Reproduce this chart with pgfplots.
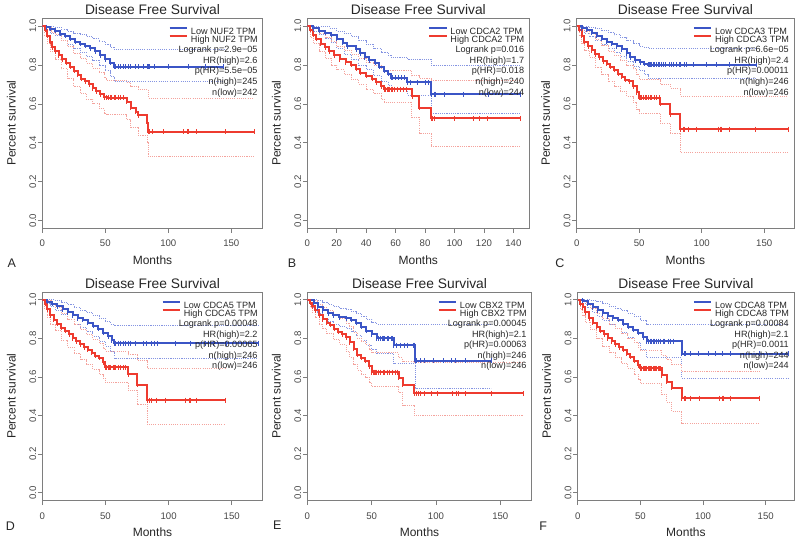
\documentclass[border=0pt]{standalone}
\usepackage{fontspec}
\setmainfont{Liberation Sans}
\usepackage{pgfplots}
\pgfplotsset{compat=1.18}
\definecolor{kmblue}{HTML}{3B55C6}
\definecolor{kmred}{HTML}{EE3B2F}
\definecolor{ciblue}{HTML}{8595E2}
\definecolor{cired}{HTML}{F4A39D}
\definecolor{boxgray}{HTML}{7E7E7E}
\definecolor{txt}{HTML}{262626}

\newcommand{\stats}[5]{Logrank p=#1\\HR(high)=#2\\p(HR)=#3\\n(high)=#4\\n(low)=#5}

\pgfplotsset{
  kmaxis/.style={
    scale only axis, anchor=south west,
    xmin=0, ymin=-0.04, ymax=1.04,
    axis line style={draw=boxgray, line width=0.8pt},
    ytick={0,0.2,0.4,0.6,0.8,1}, yticklabels={0.0,0.2,0.4,0.6,0.8,1.0},
    xtick pos=left, ytick pos=left,
    tick align=outside, major tick length=4.5pt,
    tick style={draw=boxgray, line width=0.6pt},
    ticklabel style={font=\fontsize{9.6}{10}\selectfont, text=txt!85},
    xticklabel style={anchor=north, inner sep=0pt, yshift=-7.3pt},
    yticklabel style={rotate=90, anchor=south, inner xsep=0pt, inner ysep=1.5pt},
    legend style={at={(axis description cs:1,1)}, anchor=north east, xshift=-5pt, yshift=-8.6pt,
      draw=none, fill=none, inner sep=0pt, outer sep=0pt, row sep=0.4pt,
      font=\fontsize{9.1}{9.1}\selectfont, text=txt,
      nodes={inner sep=0pt, text height=6.6pt, text depth=0pt},
      /tikz/every odd column/.append style={column sep=2.7pt}},
    legend cell align=left,
    legend image code/.code={\draw[##1, line width=2pt] (0pt,3.3pt) -- (17.6pt,3.3pt);},
  },
  kmlow/.style={const plot, draw=kmblue, line width=2pt, mark=|, mark phase=2, mark size=2.5pt,
    mark options={draw=kmblue, line width=0.6pt, solid}},
  kmhigh/.style={const plot, draw=kmred, line width=2pt, mark=|, mark phase=2, mark size=2.5pt,
    mark options={draw=kmred, line width=0.6pt, solid}},
  cilow/.style={const plot, draw=ciblue, line width=0.7pt, dash pattern=on 1.1pt off 1.1pt, forget plot},
  cihigh/.style={const plot, draw=cired, line width=0.7pt, dash pattern=on 1.1pt off 1.1pt, forget plot},
  censlow/.style={only marks, mark=|, mark size=2.5pt, mark options={draw=kmblue, line width=0.6pt}, forget plot},
  censhigh/.style={only marks, mark=|, mark size=2.5pt, mark options={draw=kmred, line width=0.6pt}, forget plot},
}
\tikzset{
  statnode/.style={anchor=north east, align=right, inner sep=0pt, font=\fontsize{9.1}{10.6}\selectfont, text=txt},
  ttl/.style={font=\fontsize{13.8}{16}\selectfont, text=txt},
  ylab/.style={rotate=90, font=\fontsize{12}{14}\selectfont, text=txt},
  xlab/.style={font=\fontsize{12}{14}\selectfont, text=txt},
  letter/.style={font=\fontsize{12.5}{14}\selectfont, text=txt},
}

\begin{document}
\begin{tikzpicture}
\useasboundingbox (0pt,0pt) rectangle (800pt,541pt);

% ---------------- A : NUF2
\begin{axis}[kmaxis, name=pA, at={(42.3pt,312.8pt)}, width=220.4pt, height=209.9pt, xmax=174.9,
  xtick={0,50,100,150}, xticklabels={0,50,100,150}]
\addplot[cilow] coordinates {(0,1)(10,0.995)(15,0.985)(20,0.975)(25,0.965)(30,0.955)(35,0.945)(40,0.935)(45,0.92)(50,0.905)(54,0.89)(57,0.88)(144,0.88)};
\addplot[cilow] coordinates {(0,1)(3,0.98)(6,0.965)(10,0.95)(15,0.925)(20,0.905)(25,0.885)(30,0.865)(35,0.845)(40,0.825)(45,0.80)(50,0.77)(54,0.74)(57,0.715)(144,0.715)};
\addplot[cihigh] coordinates {(0,1)(4,0.995)(7,0.97)(10,0.955)(15,0.925)(20,0.895)(25,0.86)(30,0.835)(35,0.81)(40,0.785)(45,0.76)(49,0.735)(51,0.72)(67,0.71)(70,0.69)(76,0.675)(84,0.63)(168,0.63)};
\addplot[cihigh] coordinates {(0,1)(2,0.95)(4,0.91)(6,0.87)(10,0.83)(15,0.78)(20,0.73)(25,0.69)(30,0.655)(35,0.625)(40,0.60)(45,0.575)(49,0.55)(51,0.545)(67,0.52)(70,0.48)(76,0.44)(83,0.40)(84,0.33)(168,0.33)};
\addplot[kmlow] coordinates {(0,1)(3,0.995)(6,0.985)(10,0.975)(14,0.96)(18,0.95)(22,0.935)(26,0.92)(30,0.91)(34,0.90)(38,0.885)(42,0.87)(46,0.85)(50,0.83)(54,0.81)(57,0.79)(144,0.79)};
\addlegendentry{Low NUF2 TPM}
\addplot[kmhigh] coordinates {(0,1)(2,0.98)(4,0.95)(6,0.92)(8,0.89)(10,0.87)(13,0.85)(16,0.83)(19,0.81)(22,0.79)(25,0.77)(28,0.75)(31,0.73)(34,0.715)(37,0.70)(40,0.68)(43,0.665)(46,0.65)(49,0.635)(51,0.63)(67,0.61)(70,0.58)(74,0.56)(76,0.54)(83,0.50)(84,0.455)(168,0.455)};
\addlegendentry{High NUF2 TPM}
\addplot[censlow] coordinates {(58,0.79)(60,0.79)(62,0.79)(64,0.79)(66,0.79)(68,0.79)(70,0.79)(74,0.79)(76,0.79)(80,0.79)(83,0.79)(84,0.79)(85,0.79)(89,0.79)(100,0.79)(116,0.79)(129,0.79)};
\addplot[censhigh] coordinates {(52,0.63)(54,0.63)(55,0.63)(57,0.63)(58,0.63)(60,0.63)(62,0.63)(64,0.63)(85,0.455)(87,0.455)(96,0.455)(112,0.455)(115,0.455)(116,0.455)(122,0.455)(145,0.455)};
\end{axis}
\node[statnode] at ([xshift=-5pt,yshift=-27.7pt]pA.north east) {\stats{2.9e−05}{2.6}{5.5e−05}{245}{242}};
\node[ttl] at ([yshift=8.5pt]pA.north) {Disease Free Survival};
\node[ylab] at ([xshift=-31pt]pA.west) {Percent survival};
\node[xlab] at ([yshift=-32.5pt]pA.south) {Months};
\node[letter] at (11.7pt,278pt) {A};

% ---------------- B : CDCA2
\begin{axis}[kmaxis, name=pB, at={(307.3pt,312.8pt)}, width=222pt, height=209.9pt, xmax=150.8,
  xtick={0,20,40,60,80,100,120,140}, xticklabels={0,20,40,60,80,100,120,140}]
\addplot[cilow] coordinates {(0,1)(10,1.0)(15,0.99)(20,0.975)(25,0.96)(30,0.945)(35,0.925)(40,0.905)(45,0.885)(50,0.865)(55,0.85)(57,0.84)(68,0.83)(84,0.80)(145,0.80)};
\addplot[cilow] coordinates {(0,1)(4,0.975)(8,0.955)(12,0.935)(16,0.915)(20,0.885)(25,0.855)(30,0.83)(35,0.80)(40,0.775)(45,0.745)(50,0.715)(55,0.695)(57,0.675)(68,0.645)(84,0.55)(145,0.55)};
\addplot[cihigh] coordinates {(0,1)(4,0.99)(8,0.965)(12,0.94)(16,0.92)(20,0.895)(25,0.875)(30,0.855)(35,0.835)(40,0.815)(45,0.80)(50,0.78)(52,0.77)(71,0.745)(76,0.73)(84,0.72)(145,0.72)};
\addplot[cihigh] coordinates {(0,1)(2,0.94)(4,0.91)(8,0.87)(12,0.835)(16,0.80)(20,0.775)(25,0.75)(30,0.725)(35,0.70)(40,0.675)(45,0.655)(50,0.625)(52,0.61)(71,0.53)(76,0.45)(84,0.38)(145,0.38)};
\addplot[kmlow] coordinates {(0,1)(4,0.99)(8,0.975)(12,0.965)(16,0.955)(20,0.935)(24,0.915)(27,0.895)(33,0.88)(36,0.86)(39,0.84)(42,0.825)(46,0.81)(49,0.79)(52,0.77)(55,0.755)(57,0.735)(68,0.71)(84,0.65)(145,0.65)};
\addlegendentry{Low CDCA2 TPM}
\addplot[kmhigh] coordinates {(0,1)(2,0.98)(4,0.955)(6,0.935)(9,0.91)(12,0.89)(15,0.87)(18,0.85)(22,0.83)(26,0.815)(30,0.80)(33,0.78)(36,0.76)(40,0.745)(44,0.73)(47,0.71)(50,0.69)(52,0.675)(71,0.64)(76,0.58)(84,0.525)(145,0.525)};
\addlegendentry{High CDCA2 TPM}
\addplot[censlow] coordinates {(58,0.735)(60,0.735)(62,0.735)(64,0.735)(66,0.735)(70,0.71)(75,0.71)(80,0.71)(82,0.71)(86,0.65)(87,0.65)(93,0.65)(106,0.65)(123,0.65)};
\addplot[censhigh] coordinates {(53,0.675)(54,0.675)(55,0.675)(56,0.675)(57,0.675)(58,0.675)(59,0.675)(61,0.675)(63,0.675)(65,0.675)(67,0.675)(85,0.525)(86,0.525)(100,0.525)(113,0.525)(117,0.525)(122,0.525)};
\end{axis}
\node[statnode] at ([xshift=-5pt,yshift=-27.7pt]pB.north east) {\stats{0.016}{1.7}{0.018}{240}{244}};
\node[ttl] at ([yshift=8.5pt]pB.north) {Disease Free Survival};
\node[ylab] at ([xshift=-31pt]pB.west) {Percent survival};
\node[xlab] at ([yshift=-32.5pt]pB.south) {Months};
\node[letter] at (292pt,278pt) {B};

% ---------------- C : CDCA3
\begin{axis}[kmaxis, name=pC, at={(576.7pt,312.8pt)}, width=217.3pt, height=209.9pt, xmax=173.8,
  xtick={0,50,100,150}, xticklabels={0,50,100,150}]
\addplot[cilow] coordinates {(0,1)(10,0.995)(15,0.99)(20,0.98)(25,0.97)(30,0.955)(35,0.94)(40,0.925)(45,0.91)(50,0.895)(54,0.89)(57,0.885)(144,0.885)};
\addplot[cilow] coordinates {(0,1)(3,0.98)(6,0.965)(10,0.945)(15,0.925)(20,0.905)(25,0.885)(30,0.865)(35,0.845)(40,0.82)(45,0.795)(50,0.77)(54,0.75)(57,0.73)(144,0.73)};
\addplot[cihigh] coordinates {(0,1)(4,0.995)(7,0.975)(10,0.96)(15,0.93)(20,0.90)(25,0.87)(30,0.85)(35,0.825)(40,0.80)(45,0.78)(48,0.75)(50,0.725)(67,0.70)(75,0.68)(83,0.64)(169,0.64)};
\addplot[cihigh] coordinates {(0,1)(2,0.95)(4,0.91)(6,0.875)(10,0.84)(15,0.79)(20,0.75)(25,0.715)(30,0.69)(35,0.665)(40,0.64)(45,0.61)(48,0.57)(50,0.55)(67,0.50)(75,0.45)(83,0.35)(169,0.35)};
\addplot[kmlow] coordinates {(0,1)(4,0.99)(8,0.98)(12,0.965)(16,0.95)(20,0.935)(24,0.92)(28,0.91)(32,0.895)(36,0.88)(40,0.86)(43,0.84)(47,0.825)(51,0.815)(54,0.805)(57,0.80)(144,0.80)};
\addlegendentry{Low CDCA3 TPM}
\addplot[kmhigh] coordinates {(0,1)(2,0.98)(4,0.95)(6,0.92)(9,0.895)(12,0.875)(15,0.855)(18,0.84)(21,0.82)(24,0.805)(27,0.79)(30,0.775)(33,0.755)(36,0.74)(39,0.725)(42,0.715)(45,0.69)(48,0.66)(50,0.63)(67,0.60)(75,0.545)(83,0.47)(169,0.47)};
\addlegendentry{High CDCA3 TPM}
\addplot[censlow] coordinates {(58,0.80)(59,0.80)(60,0.80)(61,0.80)(62,0.80)(64,0.80)(65,0.80)(66,0.80)(68,0.80)(69,0.80)(71,0.80)(74,0.80)(76,0.80)(77,0.80)(80,0.80)(82,0.80)(83,0.80)(86,0.80)(88,0.80)(93,0.80)(104,0.80)(112,0.80)(122,0.80)};
\addplot[censhigh] coordinates {(51,0.63)(52,0.63)(53,0.63)(55,0.63)(56,0.63)(57,0.63)(59,0.63)(60,0.63)(62,0.63)(64,0.63)(66,0.63)(85,0.47)(86,0.47)(89,0.47)(96,0.47)(113,0.47)(115,0.47)(116,0.47)(122,0.47)(143,0.47)};
\end{axis}
\node[statnode] at ([xshift=-5pt,yshift=-27.7pt]pC.north east) {\stats{6.6e−05}{2.4}{0.00011}{246}{246}};
\node[ttl] at ([yshift=8.5pt]pC.north) {Disease Free Survival};
\node[ylab] at ([xshift=-31pt]pC.west) {Percent survival};
\node[xlab] at ([yshift=-32.5pt]pC.south) {Months};
\node[letter] at (560pt,278pt) {C};

% ---------------- D : CDCA5
\begin{axis}[kmaxis, name=pD, at={(42.3pt,40.5pt)}, width=220.4pt, height=208.5pt, xmax=174.5,
  xtick={0,50,100,150}, xticklabels={0,50,100,150}]
\addplot[cilow] coordinates {(0,1)(10,0.995)(15,0.985)(20,0.975)(25,0.96)(30,0.945)(35,0.935)(40,0.92)(45,0.905)(50,0.89)(54,0.875)(57,0.865)(171,0.865)};
\addplot[cilow] coordinates {(0,1)(3,0.98)(6,0.965)(10,0.945)(15,0.925)(20,0.9)(25,0.875)(30,0.855)(35,0.835)(40,0.81)(45,0.785)(50,0.76)(54,0.73)(57,0.695)(171,0.695)};
\addplot[cihigh] coordinates {(0,1)(4,0.995)(7,0.975)(10,0.96)(15,0.93)(20,0.90)(25,0.87)(30,0.845)(35,0.82)(40,0.795)(45,0.775)(48,0.75)(50,0.735)(68,0.715)(75,0.685)(83,0.645)(145,0.645)};
\addplot[cihigh] coordinates {(0,1)(2,0.95)(4,0.91)(6,0.87)(10,0.84)(15,0.79)(20,0.755)(25,0.72)(30,0.69)(35,0.665)(40,0.64)(45,0.615)(48,0.595)(50,0.57)(68,0.53)(75,0.46)(83,0.355)(145,0.355)};
\addplot[kmlow] coordinates {(0,1)(4,0.99)(8,0.98)(12,0.965)(16,0.95)(20,0.935)(24,0.92)(28,0.905)(32,0.895)(36,0.88)(40,0.865)(44,0.85)(48,0.83)(52,0.81)(55,0.79)(57,0.775)(171,0.775)};
\addlegendentry{Low CDCA5 TPM}
\addplot[kmhigh] coordinates {(0,1)(2,0.98)(4,0.95)(6,0.92)(9,0.895)(12,0.875)(15,0.855)(18,0.84)(21,0.82)(24,0.80)(27,0.785)(30,0.77)(33,0.755)(36,0.74)(39,0.725)(42,0.71)(45,0.70)(48,0.675)(50,0.65)(68,0.615)(75,0.56)(83,0.48)(145,0.48)};
\addlegendentry{High CDCA5 TPM}
\addplot[censlow] coordinates {(58,0.775)(60,0.775)(62,0.775)(64,0.775)(66,0.775)(68,0.775)(70,0.775)(74,0.775)(80,0.775)(82,0.775)(86,0.775)(89,0.775)(91,0.775)(105,0.775)(117,0.775)(129,0.775)(135,0.775)(146,0.775)};
\addplot[censhigh] coordinates {(51,0.65)(52,0.65)(53,0.65)(54,0.65)(56,0.65)(57,0.65)(58,0.65)(60,0.65)(62,0.65)(64,0.65)(66,0.65)(85,0.48)(86,0.48)(90,0.48)(97,0.48)(113,0.48)(116,0.48)(117,0.48)(122,0.48)};
\end{axis}
\node[statnode] at ([xshift=-5pt,yshift=-27.7pt]pD.north east) {\stats{0.00048}{2.2}{0.00065}{246}{246}};
\node[ttl] at ([yshift=8.5pt]pD.north) {Disease Free Survival};
\node[ylab] at ([xshift=-31pt]pD.west) {Percent survival};
\node[xlab] at ([yshift=-31.5pt]pD.south) {Months};
\node[letter] at (10.5pt,15pt) {D};

% ---------------- E : CBX2
\begin{axis}[kmaxis, name=pE, at={(307.3pt,40.5pt)}, width=224.4pt, height=208.5pt, xmax=174.4,
  xtick={0,50,100,150}, xticklabels={0,50,100,150}]
\addplot[cilow] coordinates {(0,1)(8,0.995)(12,0.985)(16,0.975)(20,0.965)(25,0.955)(30,0.95)(34,0.94)(38,0.93)(42,0.915)(46,0.90)(50,0.885)(54,0.875)(143,0.875)};
\addplot[cilow] coordinates {(0,1)(5,0.96)(8,0.93)(12,0.905)(16,0.89)(20,0.875)(25,0.86)(30,0.85)(34,0.835)(38,0.815)(42,0.79)(46,0.765)(50,0.745)(54,0.72)(67,0.67)(84,0.54)(143,0.54)};
\addplot[cihigh] coordinates {(0,1)(4,0.995)(8,0.975)(12,0.96)(15,0.945)(20,0.925)(25,0.905)(30,0.88)(33,0.86)(36,0.83)(39,0.80)(42,0.785)(45,0.77)(48,0.745)(50,0.725)(71,0.70)(74,0.68)(83,0.675)(168,0.675)};
\addplot[cihigh] coordinates {(0,1)(2,0.96)(4,0.935)(6,0.91)(9,0.875)(12,0.85)(15,0.825)(20,0.795)(25,0.77)(30,0.73)(33,0.70)(36,0.665)(39,0.635)(42,0.615)(45,0.60)(48,0.57)(50,0.55)(71,0.52)(74,0.455)(83,0.40)(168,0.40)};
\addplot[kmlow] coordinates {(0,1)(5,0.985)(8,0.96)(12,0.945)(16,0.93)(20,0.92)(25,0.91)(30,0.905)(34,0.895)(38,0.88)(42,0.86)(46,0.84)(50,0.82)(54,0.80)(67,0.765)(84,0.685)(143,0.685)};
\addlegendentry{Low CBX2 TPM}
\addplot[kmhigh] coordinates {(0,1)(2,0.985)(4,0.965)(6,0.945)(9,0.92)(12,0.90)(15,0.88)(18,0.87)(21,0.85)(24,0.835)(27,0.82)(30,0.805)(33,0.78)(36,0.745)(39,0.715)(42,0.70)(45,0.685)(48,0.655)(50,0.625)(71,0.595)(74,0.56)(83,0.515)(168,0.515)};
\addlegendentry{High CBX2 TPM}
\addplot[censlow] coordinates {(55,0.80)(57,0.80)(58,0.80)(59,0.80)(60,0.80)(62,0.80)(63,0.80)(65,0.80)(66,0.80)(69,0.765)(72,0.765)(75,0.765)(78,0.765)(82,0.765)(83,0.765)(85,0.685)(88,0.685)(91,0.685)(98,0.685)(106,0.685)(112,0.685)(115,0.685)(123,0.685)};
\addplot[censhigh] coordinates {(51,0.625)(52,0.625)(53,0.625)(54,0.625)(55,0.625)(57,0.625)(59,0.625)(60,0.625)(62,0.625)(64,0.625)(66,0.625)(68,0.625)(70,0.625)(85,0.515)(86,0.515)(88,0.515)(91,0.515)(96,0.515)(101,0.515)(113,0.515)(116,0.515)(117,0.515)(123,0.515)(143,0.515)};
\end{axis}
\node[statnode] at ([xshift=-5pt,yshift=-27.7pt]pE.north east) {\stats{0.00045}{2.1}{0.00063}{246}{246}};
\node[ttl] at ([yshift=8.5pt]pE.north) {Disease Free Survival};
\node[ylab] at ([xshift=-31pt]pE.west) {Percent survival};
\node[xlab] at ([yshift=-31.5pt]pE.south) {Months};
\node[letter] at (277.3pt,16pt) {E};

% ---------------- F : CDCA8
\begin{axis}[kmaxis, name=pF, at={(577.7pt,40.5pt)}, width=216.3pt, height=208.5pt, xmax=172.6,
  xtick={0,50,100,150}, xticklabels={0,50,100,150}]
\addplot[cilow] coordinates {(0,1)(10,0.998)(15,0.99)(20,0.98)(25,0.965)(30,0.955)(35,0.945)(40,0.93)(45,0.915)(50,0.895)(55,0.875)(168,0.875)};
\addplot[cilow] coordinates {(0,1)(4,0.98)(8,0.96)(12,0.935)(16,0.915)(20,0.895)(25,0.87)(30,0.85)(35,0.83)(40,0.805)(45,0.78)(50,0.745)(55,0.70)(83,0.595)(168,0.595)};
\addplot[cihigh] coordinates {(0,1)(4,0.995)(7,0.975)(10,0.955)(15,0.93)(20,0.905)(25,0.875)(30,0.85)(35,0.825)(40,0.80)(45,0.78)(48,0.755)(50,0.74)(67,0.71)(71,0.69)(75,0.665)(83,0.63)(145,0.63)};
\addplot[cihigh] coordinates {(0,1)(2,0.95)(4,0.92)(6,0.885)(10,0.845)(15,0.80)(20,0.76)(25,0.725)(30,0.70)(35,0.67)(40,0.645)(45,0.615)(48,0.59)(50,0.565)(67,0.51)(71,0.47)(75,0.42)(83,0.36)(145,0.36)};
\addplot[kmlow] coordinates {(0,1)(4,0.995)(8,0.98)(12,0.96)(16,0.945)(20,0.93)(24,0.915)(28,0.905)(32,0.895)(36,0.875)(40,0.86)(44,0.845)(48,0.83)(52,0.805)(55,0.785)(83,0.72)(168,0.72)};
\addlegendentry{Low CDCA8 TPM}
\addplot[kmhigh] coordinates {(0,1)(2,0.98)(4,0.96)(6,0.935)(9,0.905)(12,0.88)(15,0.86)(18,0.84)(21,0.82)(24,0.80)(27,0.785)(30,0.77)(33,0.755)(36,0.74)(39,0.72)(42,0.705)(45,0.685)(48,0.66)(50,0.645)(67,0.61)(71,0.575)(75,0.545)(83,0.49)(145,0.49)};
\addlegendentry{High CDCA8 TPM}
\addplot[censlow] coordinates {(56,0.785)(58,0.785)(59,0.785)(60,0.785)(61,0.785)(63,0.785)(64,0.785)(66,0.785)(68,0.785)(69,0.785)(72,0.785)(74,0.785)(76,0.785)(85,0.72)(86,0.72)(90,0.72)(96,0.72)(104,0.72)(110,0.72)(115,0.72)(122,0.72)(145,0.72)};
\addplot[censhigh] coordinates {(51,0.645)(52,0.645)(53,0.645)(54,0.645)(55,0.645)(56,0.645)(57,0.645)(58,0.645)(59,0.645)(60,0.645)(61,0.645)(62,0.645)(63,0.645)(64,0.645)(65,0.645)(66,0.645)(85,0.49)(86,0.49)(90,0.49)(97,0.49)(113,0.49)(115,0.49)(116,0.49)(122,0.49)};
\end{axis}
\node[statnode] at ([xshift=-5pt,yshift=-27.7pt]pF.north east) {\stats{0.00084}{2.1}{0.0011}{244}{244}};
\node[ttl] at ([yshift=8.5pt]pF.north) {Disease Free Survival};
\node[ylab] at ([xshift=-31pt]pF.west) {Percent survival};
\node[xlab] at ([yshift=-31.5pt]pF.south) {Months};
\node[letter] at (543.3pt,15pt) {F};
\end{tikzpicture}
\end{document}
